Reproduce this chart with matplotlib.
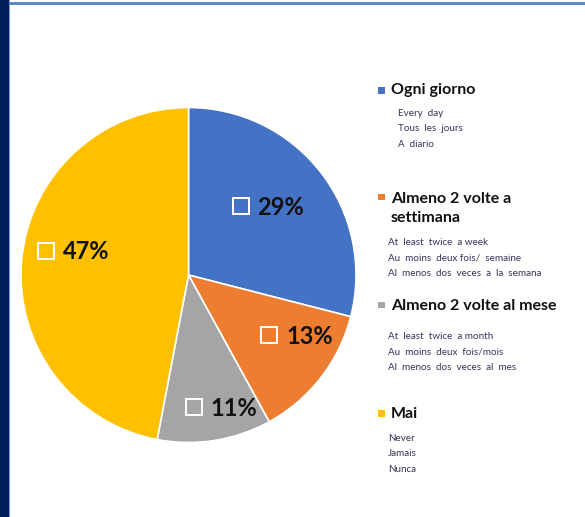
import numpy as np
import matplotlib.pyplot as plt
from matplotlib.patches import Rectangle
from matplotlib.transforms import ScaledTranslation

# frequency shares (%)
categories = [["Ogni giorno"], ["Almeno 2 volte a", "settimana"], ["Almeno 2 volte al mese"], ["Mai"]]
shares = [29, 13, 11, 47]
colors = ["#4472C4", "#ED7D31", "#A5A5A5", "#FFC000"]
translations = [
    ["Every  day", "Tous  les  jours", "A  diario"],
    ["At  least  twice  a week", "Au  moins  deux fois/  semaine", "Al  menos  dos  veces  a  la  semana"],
    ["At  least  twice  a month", "Au  moins  deux  fois/mois", "Al  menos  dos  veces  al  mes"],
    ["Never", "Jamais", "Nunca"],
]

W, H = 585, 517
fig = plt.figure(figsize=(W / 100, H / 100), dpi=100)
fig.patch.set_facecolor("white")


def fx(px):
    return px / W


def fy(py):
    return 1 - py / H


# page frame: dark bar on the left, thin blue rule on top
fig.add_artist(Rectangle((0, 0), fx(9), 1, transform=fig.transFigure, color="#001F5C", lw=0))
fig.add_artist(Rectangle((fx(9), 0), fx(1.2), 1, transform=fig.transFigure, color="#7A98CC", lw=0))
fig.add_artist(Rectangle((fx(9), fy(4.5)), 1, 2.5 / H, transform=fig.transFigure, color="#5B87C5", lw=0))

# pie
cx, cy, R = 188.5, 275, 167.5
ax = fig.add_axes([fx(cx - R), fy(cy + R), 2 * R / W, 2 * R / H])
wedges, _ = ax.pie(shares, colors=colors, startangle=90, counterclock=False, radius=1,
                   wedgeprops=dict(edgecolor="white", linewidth=1.2))
ax.set_xlim(-1, 1)
ax.set_ylim(-1, 1)
ax.set_aspect("auto")
ax.axis("off")

# label placement (radius fraction, angle nudge in degrees)
label_r = [0.63, 0.75, 0.82, 0.69]
label_shift = [2.0, 8.6, 5.4, -6.1]
box_shift = ax.transData + ScaledTranslation(-0.29, 0.01, fig.dpi_scale_trans)
for w, v, r, d in zip(wedges, shares, label_r, label_shift):
    ang = np.deg2rad((w.theta1 + w.theta2) / 2 + d)
    x, y = r * np.cos(ang), r * np.sin(ang)
    ax.annotate(f"{v}%", xy=(x, y), xytext=(-12, 0), textcoords="offset pixels",
                ha="left", va="center", fontsize=17, fontweight="bold",
                family="Lato", color="#111111")
    ax.plot([x], [y], marker="s", ms=11, mfc="none", mec="white", mew=1.4,
            transform=box_shift)

# legend
head_base = [94, 203, 310, 418]
marker_y = [90.5, 197, 305, 413.5]
sub_x = [398, 388, 388, 388]
sub_base = [116, 245, 339, 441]
for names, c, subs, hb, my, sx, sb in zip(categories, colors, translations,
                                           head_base, marker_y, sub_x, sub_base):
    fig.add_artist(Rectangle((fx(378), fy(my + 3)), 6.5 / W, 6.5 / H,
                             transform=fig.transFigure, color=c, lw=0))
    for i, name in enumerate(names):
        fig.text(fx(391), fy(hb + i * 19.5), name, ha="left", va="baseline", fontsize=11.5,
                 fontweight="bold", family="Lato", color="#111111")
    for i, s in enumerate(subs):
        fig.text(fx(sx), fy(sb + i * 15.4), s, ha="left", va="baseline",
                 fontsize=7.1, family="Lato", color="#34345A")

fig.savefig("out.png", dpi=100)
